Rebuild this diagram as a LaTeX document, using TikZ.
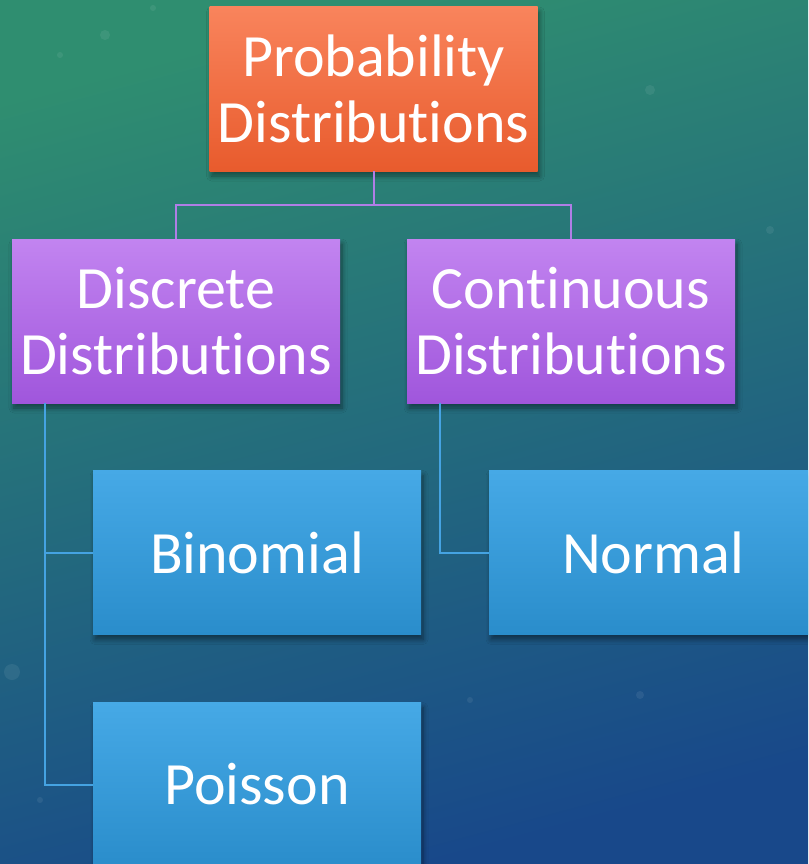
\documentclass[tikz,border=0pt]{standalone}
\usepackage{fontspec}
\setmainfont{Carlito}[Ligatures=NoCommon]
\usetikzlibrary{shadows.blur,calc}

% keeps "t" and "i" as separate glyphs
\newcommand\tisplit{\kern0pt}

\definecolor{bgGreen}{HTML}{2F8E70}
\definecolor{bgBlue}{HTML}{18488A}
\definecolor{orTop}{HTML}{F9845C}
\definecolor{orBot}{HTML}{E85B2D}
\definecolor{puTop}{HTML}{C284F0}
\definecolor{puBot}{HTML}{A056DC}
\definecolor{blTop}{HTML}{46A9E6}
\definecolor{blBot}{HTML}{2A8DCB}
\definecolor{puLine}{HTML}{B07EE6}
\definecolor{blLine}{HTML}{45A3E2}

\tikzset{
  box/.style={rectangle, inner sep=0pt, align=center, text=white,
    minimum width=328pt, minimum height=164pt,
    font=\fontsize{60}{66}\selectfont,
    blur shadow={shadow xshift=2pt, shadow yshift=-5pt, shadow blur steps=6,
      shadow opacity=45, shadow blur radius=5pt}},
  rootbox/.style={box, top color=orTop, bottom color=orBot},
  midbox/.style={box, top color=puTop, bottom color=puBot},
  leafbox/.style={box, top color=blTop, bottom color=blBot},
  purplelink/.style={draw=puLine, line width=2pt},
  bluelink/.style={draw=blLine, line width=2pt},
}

\begin{document}
\begin{tikzpicture}[x=1pt, y=-1pt]
  \useasboundingbox (0,0) rectangle (808,864);
  \clip (0,0) rectangle (808,864);

  % backdrop
  \fill[top color=bgGreen, bottom color=bgBlue, shading angle=15] (0,0) rectangle (808,864);
  \foreach \px/\py/\r in {105/35/5, 153/8/3, 60/55/3, 650/90/5, 560/300/4, 12/672/8, 770/230/4, 640/695/4, 40/800/3, 470/700/3}
    \fill[white, opacity=0.07] (\px,\py) circle (\r);

  % nodes
  \node[rootbox] (root) at (373.5,89) {Probability\\Distribut\tisplit ions};
  \node[midbox]  (disc) at (176,321) {Discrete\\Distribut\tisplit ions};
  \node[midbox]  (cont) at (571,321) {Cont\tisplit inuous\\Distribut\tisplit ions};
  \node[leafbox] (binom) at (257,552.5) {Binomial};
  \node[leafbox] (normal) at (653,552.5) {Normal};
  \node[leafbox] (poisson) at (257,784.5) {Poisson};

  % connectors
  \coordinate (split) at ($(root.south)+(0,34)$);
  \draw[purplelink] (root.south) -- (split) -| (disc.north);
  \draw[purplelink] (split) -| (cont.north);

  \coordinate (dtrunk) at ($(disc.south west)+(33,0)$);
  \coordinate (ctrunk) at ($(cont.south west)+(33,0)$);
  \draw[bluelink] (dtrunk) |- (binom.west);
  \draw[bluelink] (dtrunk) |- (poisson.west);
  \draw[bluelink] (ctrunk) |- (normal.west);
\end{tikzpicture}
\end{document}
